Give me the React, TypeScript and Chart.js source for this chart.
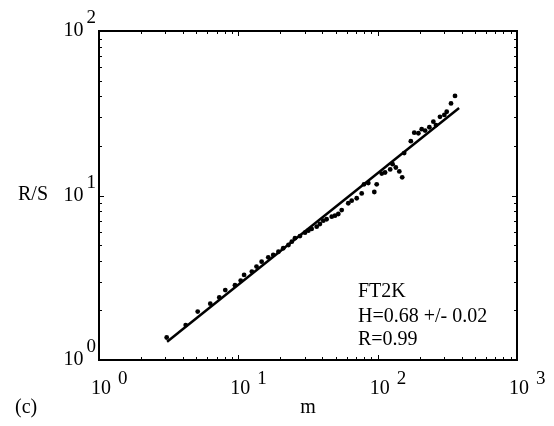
import React, { useEffect, useRef } from "react";
import { Chart, registerables } from "chart.js";

Chart.register(...registerables);

// Data (m, R/S)
const mValues = [
  3.06, 4.19, 5.11, 6.29, 7.3, 8.06, 9.46, 10.4, 11.0, 12.5, 13.5, 14.7, 16.4, 17.8, 19.4,
  21.0, 22.9, 24.2, 25.5, 27.7, 30.1, 31.8, 33.6, 36.5, 38.5, 40.7, 43.0, 46.8, 49.4, 52.2,
  55.2, 61.5, 65.1, 70.7, 76.8, 79.8, 85.7, 94.6, 98.4, 107, 113, 123, 128, 135, 143, 150,
  155, 173, 183, 196, 207, 219, 235, 251, 262, 280, 301, 313, 336, 359,
];
const rsValues = [
  1.37, 1.63, 1.97, 2.2, 2.4, 2.66, 2.85, 3.04, 3.29, 3.45, 3.7, 3.96, 4.21, 4.35, 4.55,
  4.78, 5.0, 5.24, 5.5, 5.67, 5.94, 6.11, 6.26, 6.46, 6.71, 7.03, 7.17, 7.43, 7.54, 7.72,
  8.16, 8.97, 9.3, 9.62, 10.3, 11.7, 11.9, 10.5, 11.7, 13.6, 13.8, 14.4, 15.5, 14.8, 14.0, 12.9,
  18.1, 21.4, 24.1, 23.9, 25.3, 24.8, 26.0, 28.1, 26.8, 30.1, 30.9, 32.3, 36.3, 40.3,
];

// Fitted line endpoints
const fitM = [3.08, 384];
const fitRS = [1.29, 34.0];

const xDecades = [0, 1, 2, 3];
const yDecades = [0, 1, 2];
const annotationLines = ["FT2K", "H=0.68 +/- 0.02", "R=0.99"];
const xTitle = "m";
const yTitle = "R/S";
const panelLabel = "(c)";

const FONT = '"Liberation Serif", "Times New Roman", serif';

const framePlugin = {
  id: "frame",
  afterDraw(chart: any) {
    const ctx = chart.ctx;
    const a = chart.chartArea;
    const xs = chart.scales.x;
    const ys = chart.scales.y;
    ctx.save();
    ctx.strokeStyle = "#000";
    ctx.fillStyle = "#000";
    ctx.lineWidth = 2;
    ctx.strokeRect(a.left, a.top, a.right - a.left, a.bottom - a.top);

    ctx.lineWidth = 1;
    // x ticks (bottom and top)
    for (let d = 0; d < 3; d++) {
      for (let k = 1; k <= 9; k++) {
        const v = k * Math.pow(10, d);
        const px = Math.round(xs.getPixelForValue(v)) + 0.5;
        const len = k === 1 ? 5 : 3;
        ctx.beginPath();
        ctx.moveTo(px, a.bottom);
        ctx.lineTo(px, a.bottom - len);
        ctx.moveTo(px, a.top);
        ctx.lineTo(px, a.top + len);
        ctx.stroke();
      }
    }
    // y ticks (left and right)
    for (let d = 0; d < 2; d++) {
      for (let k = 1; k <= 9; k++) {
        const v = k * Math.pow(10, d);
        const py = Math.round(ys.getPixelForValue(v)) + 0.5;
        const len = k === 1 ? 5 : 3;
        ctx.beginPath();
        ctx.moveTo(a.left, py);
        ctx.lineTo(a.left + len, py);
        ctx.moveTo(a.right, py);
        ctx.lineTo(a.right - len, py);
        ctx.stroke();
      }
    }

    // x tick labels
    ctx.textBaseline = "alphabetic";
    ctx.textAlign = "left";
    for (const d of xDecades) {
      const px = xs.getPixelForValue(Math.pow(10, d));
      ctx.font = `20px ${FONT}`;
      const x0 = px - 8;
      ctx.fillText("10", x0, a.bottom + 34);
      const w = ctx.measureText("10").width;
      ctx.font = `19px ${FONT}`;
      ctx.fillText(String(d), x0 + w + 7, a.bottom + 24);
    }
    // y tick labels
    for (const d of yDecades) {
      const py = ys.getPixelForValue(Math.pow(10, d));
      ctx.font = `19px ${FONT}`;
      ctx.textAlign = "right";
      const supRight = a.left - 3;
      ctx.fillText(String(d), supRight, py - 8);
      const sw = ctx.measureText(String(d)).width;
      ctx.font = `20px ${FONT}`;
      ctx.fillText("10", supRight - sw - 3, py + 5);
    }

    // titles
    ctx.font = `20px ${FONT}`;
    ctx.textAlign = "left";
    ctx.fillText(yTitle, 18, ys.getPixelForValue(10) + 4);
    ctx.textAlign = "center";
    ctx.fillText(xTitle, (a.left + a.right) / 2, 413);
    ctx.textAlign = "left";
    ctx.fillText(panelLabel, 15, 413);

    // annotation
    const baselines = [297, 321.5, 345];
    annotationLines.forEach((t, i) => ctx.fillText(t, 358, baselines[i]));
    ctx.restore();
  },
};

export default function App() {
  const ref = useRef<HTMLCanvasElement | null>(null);
  useEffect(() => {
    if (!ref.current) return;
    const chart = new Chart(ref.current, {
      type: "scatter",
      data: {
        datasets: [
          {
            data: mValues.map((m, i) => ({ x: m, y: rsValues[i] })),
            pointRadius: 2.4,
            pointBackgroundColor: "#000",
            pointBorderWidth: 0,
            showLine: false,
          },
          {
            data: fitM.map((m, i) => ({ x: m, y: fitRS[i] })),
            showLine: true,
            borderColor: "#000",
            borderWidth: 2.5,
            pointRadius: 0,
          },
        ],
      },
      options: {
        animation: false,
        responsive: false,
        devicePixelRatio: 1,
        layout: { padding: { left: 99, top: 31, right: 37, bottom: 66 } },
        plugins: { legend: { display: false }, tooltip: { enabled: false } },
        scales: {
          x: { type: "logarithmic", min: 1, max: 1000, display: false },
          y: { type: "logarithmic", min: 1, max: 100, display: false },
        },
      },
      plugins: [framePlugin],
    });
    return () => chart.destroy();
  }, []);
  return (
    <div style={{ position: "absolute", left: 0, top: 0, width: 554, height: 426, background: "#fff" }}>
      <canvas ref={ref} width={554} height={426} />
    </div>
  );
}
